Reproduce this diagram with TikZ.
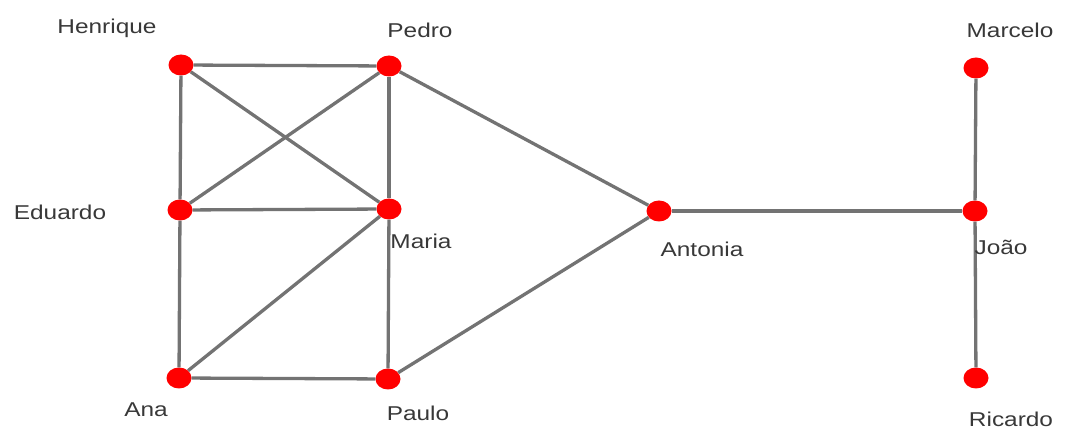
\documentclass[tikz,border=0pt]{standalone}
\usepackage{fontspec}
\setmainfont{Liberation Sans}
\usetikzlibrary{shapes.geometric}
\begin{document}
\begin{tikzpicture}[x=1pt,y=-1pt,
  person/.style={ellipse,fill=red,draw=none,inner sep=0pt,minimum width=25pt,minimum height=21pt},
  tie/.style={draw=black!55,line width=3.3pt},
  who/.style={inner sep=0pt,text=black!78,font=\fontsize{20}{22}\selectfont,xscale=1.22,anchor=center}]
  \useasboundingbox (0,0) rectangle (1072,430);
  % people
  \node[person] (henrique) at (181,65) {};
  \node[person] (pedro)    at (389,66) {};
  \node[person] (marcelo)  at (976,68) {};
  \node[person] (eduardo)  at (180,210) {};
  \node[person] (maria)    at (389,209) {};
  \node[person] (antonia)  at (659,211) {};
  \node[person] (joao)     at (975,211) {};
  \node[person] (ana)      at (179,378) {};
  \node[person] (paulo)    at (388,379) {};
  \node[person] (ricardo)  at (976,378) {};
  % relations
  \draw[tie] (henrique) -- (pedro);
  \draw[tie] (henrique) -- (eduardo);
  \draw[tie] (henrique) -- (maria);
  \draw[tie] (pedro) -- (eduardo);
  \draw[tie] (pedro) -- (maria);
  \draw[tie] (pedro) -- (antonia);
  \draw[tie] (eduardo) -- (maria);
  \draw[tie] (eduardo) -- (ana);
  \draw[tie] (maria) -- (ana);
  \draw[tie] (maria) -- (paulo);
  \draw[tie] (ana) -- (paulo);
  \draw[tie] (paulo) -- (antonia);
  \draw[tie] (antonia) -- (joao);
  \draw[tie] (marcelo) -- (joao);
  \draw[tie] (joao) -- (ricardo);
  % names
  \node[who] (lhenrique) at (107,28) {Henrique};
  \node[who] (lpedro)    at (420,30) {Pedro};
  \node[who] (lmarcelo)  at (1010,30) {Marcelo};
  \node[who] (leduardo)  at (60,212) {Eduardo};
  \node[who] (lmaria)    at (421,241) {Maria};
  \node[who] (lantonia)  at (702,249) {Antonia};
  \node[who] (ljoao)     at (1001,247) {João};
  \node[who] (lana)      at (146,410) {Ana};
  \node[who] (lpaulo)    at (418,413) {Paulo};
  \node[who] (lricardo)  at (1011,419) {Ricardo};
\end{tikzpicture}
\end{document}
